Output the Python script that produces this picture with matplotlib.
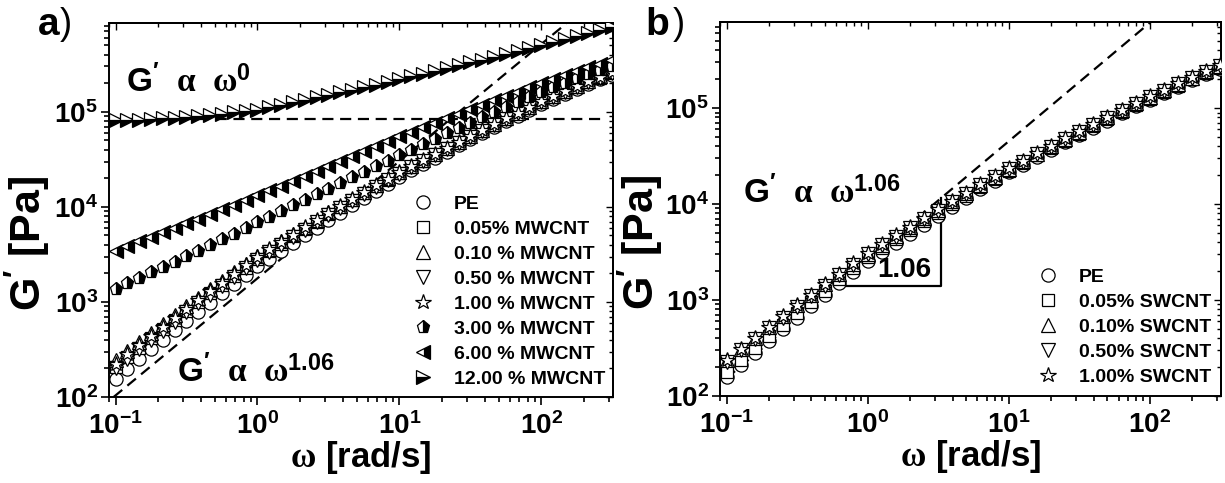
import numpy as np
import matplotlib
matplotlib.use("Agg")
import matplotlib.pyplot as plt
from matplotlib.ticker import LogLocator, NullFormatter, FuncFormatter

plt.rcParams['font.family'] = ['Liberation Sans', 'DejaVu Sans']
plt.rcParams['font.weight'] = 'bold'
plt.rcParams['mathtext.fontset'] = 'custom'
plt.rcParams['mathtext.rm'] = 'Liberation Serif'
plt.rcParams['mathtext.it'] = 'Liberation Serif:italic'
plt.rcParams['mathtext.bf'] = 'Liberation Sans:bold'
plt.rcParams['mathtext.sf'] = 'Liberation Sans:bold'

########################################################################################################################
# Data: panel a) PE / MWCNT composites
########################################################################################################################

omega_a = [0.1, 0.121, 0.147, 0.178, 0.215, 0.261, 0.316, 0.383, 0.464, 0.562, 0.681, 0.825, 1.0, 1.21, 1.47, 1.78,
           2.15, 2.61, 3.16, 3.83, 4.64, 5.62, 6.81, 8.25, 10.0, 12.1, 14.7, 17.8, 21.5, 26.1, 31.6, 38.3, 46.4, 56.2,
           68.1, 82.5, 100, 121, 147, 178, 215, 261, 316]

pe_a = [155, 197, 249, 316, 398, 501, 630, 789, 986, 1230, 1530, 1900, 2360, 2860, 3460, 4180, 5040, 6050, 7260, 8690,
        10400, 12400, 14700, 17500, 20700, 24200, 28200, 32900, 38200, 44400, 51400, 59400, 68700, 79300, 91200,
        105000, 121000, 136000, 154000, 174000, 195000, 219000, 245000]
mw005 = [209, 263, 330, 414, 516, 644, 803, 996, 1230, 1520, 1870, 2300, 2840, 3410, 4090, 4910, 5880, 6990, 8330,
         9900, 11800, 13900, 16400, 19300, 22700, 26400, 30700, 35700, 41200, 47800, 55100, 63400, 73100, 84000,
         96100, 110500, 126700, 142400, 161200, 182200, 204200, 229300, 256500]
mw010 = [246, 307, 381, 476, 589, 728, 900, 1110, 1360, 1670, 2040, 2490, 3040, 3640, 4360, 5200, 6200, 7360, 8730,
         10300, 12200, 14400, 16900, 19900, 23200, 26800, 31200, 36200, 41900, 48500, 55900, 64400, 74000, 85200,
         97800, 112300, 129500, 146000, 166000, 189000, 212000, 239000, 269000]
mw050 = [200, 252, 316, 398, 497, 621, 775, 963, 1190, 1480, 1830, 2250, 2770, 3340, 4010, 4810, 5760, 6870, 8180,
         9740, 11600, 13700, 16200, 19100, 22400, 26200, 30400, 35400, 41000, 47500, 54800, 63200, 72900, 83800,
         96100, 110500, 126000, 141800, 160500, 181500, 203500, 228500, 255500]
mw100 = [224, 282, 352, 441, 549, 684, 850, 1050, 1300, 1600, 1970, 2420, 2970, 3570, 4280, 5110, 6100, 7250, 8630,
         10200, 12100, 14300, 16800, 19800, 23200, 27000, 31400, 36400, 42100, 48700, 56100, 64600, 74300, 85500,
         98000, 112600, 130000, 146000, 165000, 187000, 209000, 235000, 263000]
mw300 = [1380, 1570, 1790, 2040, 2320, 2650, 3030, 3470, 3970, 4550, 5220, 6000, 6890, 7890, 9040, 10350, 11860,
         13580, 15560, 17820, 20400, 23400, 26800, 30700, 35100, 40100, 45800, 52200, 59600, 67800, 77100, 87500,
         99300, 112500, 127400, 143900, 162200, 182000, 203200, 226500, 251200, 278000, 306900]
mw600 = [3470, 3870, 4330, 4830, 5400, 6030, 6730, 7530, 8430, 9440, 10570, 11830, 13240, 14890, 16750, 18840, 21230,
         23930, 26980, 30410, 34280, 38640, 43550, 48980, 55080, 61660, 69020, 77090, 86100, 95940, 106900, 119100,
         132400, 147200, 163300, 181100, 200400, 220800, 243200, 267300, 293100, 321400, 351600]
mw1200 = [81300, 82000, 83000, 84100, 85500, 87100, 88900, 91000, 93300, 95900, 98800, 102100, 105700, 111900,
          118600, 125900, 133700, 141900, 150700, 160300, 170600, 181600, 193600, 206500, 220300, 235500, 251800,
          269800, 288400, 309000, 331100, 354800, 380200, 407400, 436500, 467700, 501200, 539500, 579400, 623700,
          671400, 721100, 776200]

labels_a = ["PE", "0.05% MWCNT", "0.10 % MWCNT", "0.50 % MWCNT", "1.00 % MWCNT", "3.00 % MWCNT", "6.00 % MWCNT",
            "12.00 % MWCNT"]

# guide lines in a): slope line and plateau line (end points read off the figure)
slope_a_x = [0.097, 150]
slope_a_y = [100, 850000]
plateau_a_x = [0.09, 280]
plateau_a_y = [85000, 85000]

########################################################################################################################
# Data: panel b) PE / SWCNT composites
########################################################################################################################

omega_b = [0.1, 0.126, 0.158, 0.2, 0.251, 0.316, 0.398, 0.501, 0.631, 0.794, 1.0, 1.26, 1.58, 2.0, 2.51, 3.16, 3.98,
           5.01, 6.31, 7.94, 10, 12.6, 15.8, 20, 25.1, 31.6, 39.8, 50.1, 63.1, 79.4, 100, 126, 158, 200, 251, 316]

pe_b = [158, 211, 281, 373, 494, 653, 861, 1130, 1490, 1950, 2540, 3180, 3960, 4930, 6120, 7590, 9380, 11560, 14220,
        17460, 21380, 25700, 30830, 36900, 44060, 52480, 62520, 74300, 88100, 104200, 123000, 143900, 167500, 194500,
        224900, 258800]
sw005 = [179, 239, 317, 419, 553, 729, 957, 1250, 1650, 2150, 2780, 3470, 4300, 5330, 6590, 8140, 10010, 12280, 15030,
         18370, 22390, 26860, 32120, 38380, 45730, 54320, 64580, 76530, 90570, 106900, 125800, 147200, 171400, 199000,
         230100, 264800]
sw010 = [239, 312, 406, 527, 682, 881, 1135, 1455, 1876, 2399, 3053, 3787, 4673, 5763, 7093, 8713, 10670, 13030,
         15880, 19330, 23430, 28120, 33640, 40180, 47850, 56890, 67590, 80170, 94800, 111900, 131900, 154300, 179600,
         208500, 241100, 277400]
sw050 = [228, 299, 390, 507, 657, 851, 1099, 1413, 1825, 2339, 2985, 3707, 4579, 5654, 6962, 8564, 10500, 12830,
         15670, 19080, 23180, 27790, 33260, 39710, 47310, 56240, 66860, 79260, 93760, 110700, 130300, 152400, 177400,
         206000, 238200, 274100]
sw100 = [236, 309, 403, 524, 680, 881, 1137, 1462, 1889, 2422, 3089, 3832, 4728, 5832, 7173, 8812, 10800, 13180,
         16070, 19540, 23710, 28450, 34040, 40660, 48420, 57520, 68400, 81060, 95940, 113200, 133300, 156000, 181600,
         210800, 243800, 280500]

labels_b = ["PE", "0.05% SWCNT", "0.10% SWCNT", "0.50% SWCNT", "1.00% SWCNT"]

slope_b_x = [0.1, 100]
slope_b_y = [153, 776000]
# slope triangle in b)
tri_x = [0.6, 3.3, 3.3]
tri_y = [1400, 1400, 11500]

########################################################################################################################
# Marker styles
########################################################################################################################

open_styles = [dict(marker='o', ms=9.5), dict(marker='s', ms=8.5), dict(marker='^', ms=9.5),
               dict(marker='v', ms=9.5), dict(marker='*', ms=11.5)]
half_styles = [dict(marker='p', ms=9.5, fillstyle='right'), dict(marker='<', ms=10, fillstyle='right'),
               dict(marker='>', ms=10, fillstyle='bottom')]


def draw_series(ax, x, y, label, style):
    kw = dict(ls='none', mec='black', mew=0.9, label=label, zorder=3)
    kw.update(style)
    if 'fillstyle' in style:
        kw.update(mfc='black', markerfacecoloralt='white')
    else:
        kw.update(mfc='white')
    ax.plot(x, y, **kw)


def style_axes(ax, ytop):
    ax.set_xscale('log')
    ax.set_yscale('log')
    ax.set_xlim(0.09, 320)
    ax.set_ylim(100, ytop)
    for s in ax.spines.values():
        s.set_linewidth(1.4)
    fmt = FuncFormatter(lambda v, p: r'$\mathbf{10^{%d}}$' % round(np.log10(v)))
    for axis in (ax.xaxis, ax.yaxis):
        axis.set_major_locator(LogLocator(base=10, numticks=20))
        axis.set_minor_locator(LogLocator(base=10, subs=np.arange(2, 10), numticks=50))
        axis.set_major_formatter(fmt)
        axis.set_minor_formatter(NullFormatter())
    ax.tick_params(which='both', direction='out', width=1.2, labelsize=20, top=False, right=False)
    ax.tick_params(axis='x', pad=5)
    ax.tick_params(axis='y', pad=2)
    ax.tick_params(which='major', length=6)
    ax.tick_params(which='minor', length=3.5)
    # mirrored inner ticks on top and right
    sec_x = ax.secondary_xaxis('top')
    sec_y = ax.secondary_yaxis('right')
    for sec, axis in ((sec_x, sec_x.xaxis), (sec_y, sec_y.yaxis)):
        axis.set_major_locator(LogLocator(base=10, numticks=20))
        axis.set_minor_locator(LogLocator(base=10, subs=np.arange(2, 10), numticks=50))
        axis.set_major_formatter(NullFormatter())
        axis.set_minor_formatter(NullFormatter())
        sec.tick_params(which='both', direction='in', width=1.0)
        sec.tick_params(which='major', length=5)
        sec.tick_params(which='minor', length=3)
        for s in sec.spines.values():
            s.set_linewidth(1.4)
    ax.set_xlabel(r'$\mathrm{\omega}$ [rad/s]', fontsize=25, fontweight='bold', va='center')
    ax.xaxis.set_label_coords(0.5, -0.163)
    ax.set_ylabel(r"$\mathbf{G'}$ [Pa]", fontsize=31, fontweight='bold', va='center')


fig = plt.figure(figsize=(12.25, 4.83), dpi=100)

########################################################################################################################
# Panel a)
########################################################################################################################

ax_a = fig.add_axes([0.0890, 0.1781, 0.4114, 0.7743])
ax_a.plot(slope_a_x, slope_a_y, color='black', ls=(0, (5, 3)), lw=1.6, zorder=1)
ax_a.plot(plateau_a_x, plateau_a_y, color='black', ls=(0, (5, 3)), lw=1.6, zorder=1)

series_a = [pe_a, mw005, mw010, mw050, mw100, mw300, mw600, mw1200]
for y, lab, st in zip(series_a, labels_a, open_styles + half_styles):
    draw_series(ax_a, omega_a, y, lab, st)

style_axes(ax_a, 860000)
ax_a.yaxis.set_label_coords(-0.163, 0.41)
ax_a.legend(loc='upper left', bbox_to_anchor=(0.603, 0.539), frameon=False, prop={'weight': 'bold', 'size': 14},
            handlelength=1.0, handletextpad=1.1, labelspacing=0.38, borderpad=0, borderaxespad=0, numpoints=1)

ax_a.text(0.118, 1.6e5, r"$\mathbf{G'}\ \ \mathrm{\alpha}\ \ \mathrm{\omega}^{\mathbf{0}}$", fontsize=24,
          ha='left', va='baseline')
ax_a.text(0.273, 144, r"$\mathbf{G'}\ \ \mathrm{\alpha}\ \ \mathrm{\omega}^{\mathbf{1.06}}$", fontsize=24,
          ha='left', va='baseline')

########################################################################################################################
# Panel b)
########################################################################################################################

ax_b = fig.add_axes([0.5878, 0.1801, 0.4090, 0.7743])
ax_b.plot(slope_b_x, slope_b_y, color='black', ls=(0, (5, 3)), lw=1.6, zorder=1)
ax_b.plot(tri_x, tri_y, color='black', ls='-', lw=1.6, zorder=2)

series_b = [pe_b, sw005, sw010, sw050, sw100]
for y, lab, st in zip(series_b, labels_b, open_styles):
    draw_series(ax_b, omega_b, y, lab, st)

style_axes(ax_b, 790000)
ax_b.yaxis.set_label_coords(-0.160, 0.41)
ax_b.legend(loc='upper left', bbox_to_anchor=(0.635, 0.342), frameon=False, prop={'weight': 'bold', 'size': 14},
            handlelength=1.0, handletextpad=1.1, labelspacing=0.38, borderpad=0, borderaxespad=0, numpoints=1)

ax_b.text(0.13, 1.02e4, r"$\mathbf{G'}\ \ \mathrm{\alpha}\ \ \mathrm{\omega}^{\mathbf{1.06}}$", fontsize=24,
          ha='left', va='baseline')
ax_b.text(1.83, 2.05e3, "1.06", fontsize=20, fontweight='bold', ha='center', va='center', zorder=4)

# panel letters
fig.text(0.031, 0.985, "a", fontsize=28, fontweight='bold', ha='left', va='top')
fig.text(0.049, 0.985, ")", fontsize=26, fontweight='normal', ha='left', va='top')
fig.text(0.527, 0.985, "b", fontsize=28, fontweight='bold', ha='left', va='top')
fig.text(0.549, 0.985, ")", fontsize=26, fontweight='normal', ha='left', va='top')

fig.savefig("out.png", dpi=100)
